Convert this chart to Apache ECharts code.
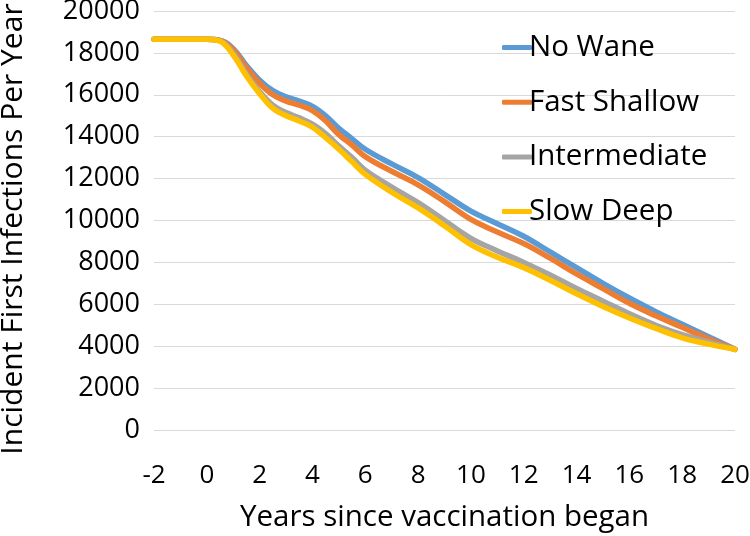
<!DOCTYPE html>
<html>
<head>
<meta charset="utf-8">
<script src="https://cdn.jsdelivr.net/npm/echarts@6/dist/echarts.min.js"></script>
<style>html,body{margin:0;padding:0;background:#fff;}#c{width:750px;height:536px;}</style>
</head>
<body>
<div id="c"></div>
<script>
const years = [-2,-1,0,0.5,1,1.5,2,2.5,3,3.5,4,4.5,5,5.5,6,7,8,9,10,11,12,13,14,15,16,17,18,19,20];
const noWane = [18650,18650,18650,18600,18200,17400,16700,16200,15900,15700,15450,15000,14400,13900,13400,12700,12050,11250,10450,9850,9250,8500,7750,7000,6300,5650,5050,4450,3850];
const fastShallow = [18650,18650,18650,18600,18150,17300,16550,16000,15700,15500,15250,14750,14100,13600,13050,12350,11700,10900,10050,9450,8900,8200,7450,6750,6050,5450,4900,4350,3850];
const intermediate = [18650,18650,18650,18580,18000,17000,16150,15500,15150,14900,14600,14150,13550,13000,12400,11600,10850,10000,9150,8550,8000,7400,6750,6150,5550,5000,4550,4200,3850];
const slowDeep = [18650,18650,18650,18560,17900,16900,16050,15350,15000,14750,14450,13950,13400,12800,12200,11350,10600,9750,8850,8250,7750,7150,6500,5900,5350,4850,4400,4100,3850];
const seriesNames = ['No Wane','Fast Shallow','Intermediate','Slow Deep'];
const seriesValues = [noWane, fastShallow, intermediate, slowDeep];
const colors = ['#5B9BD5','#ED7D31','#A5A5A5','#FFC000'];
const yTitle = 'Incident First Infections Per Year';
const xTitle = 'Years since vaccination began';
const FONT = 'Open Sans';

const chart = echarts.init(document.getElementById('c'));
chart.setOption({
  animation: false,
  backgroundColor: '#fff',
  color: colors,
  grid: {left: 154, right: 15, top: 11, bottom: 106, outerBoundsMode: 'none', containLabel: false},
  graphic: [{
    type: 'text', x: 13, y: 229, rotation: Math.PI / 2,
    style: {text: yTitle, fontFamily: FONT, fontSize: 30, fill: '#000', align: 'center', verticalAlign: 'middle'}
  }],
  legend: {
    orient: 'vertical', left: 497, top: 27,
    itemWidth: 30, itemHeight: 5, itemGap: 23.7,
    icon: 'roundRect',
    textStyle: {fontFamily: FONT, fontSize: 29.5, color: '#000', lineHeight: 31, padding: [0,0,0,-8]},
    data: seriesNames
  },
  xAxis: {
    type: 'value', min: -2, max: 20, interval: 2,
    name: xTitle, nameLocation: 'middle', nameGap: 73,
    nameTextStyle: {fontFamily: FONT, fontSize: 29.5, color: '#000'},
    axisLine: {show: false}, axisTick: {show: false}, splitLine: {show: false},
    axisLabel: {fontFamily: FONT, fontSize: 26, color: '#000', margin: 33}
  },
  yAxis: {
    type: 'value', min: 0, max: 20000, interval: 2000,
    axisLine: {show: false}, axisTick: {show: false},
    splitLine: {lineStyle: {color: '#D9D9D9', width: 1}},
    axisLabel: {fontFamily: FONT, fontSize: 27, color: '#000', margin: 14, formatter: v => String(v)}
  },
  series: seriesNames.map((n, i) => ({
    name: n, type: 'line', smooth: 0.4, showSymbol: false, symbol: 'none',
    lineStyle: {width: 5.5, color: colors[i], cap: 'round', join: 'round'},
    data: years.map((x, j) => [x, seriesValues[i][j]])
  }))
});
</script>
</body>
</html>
